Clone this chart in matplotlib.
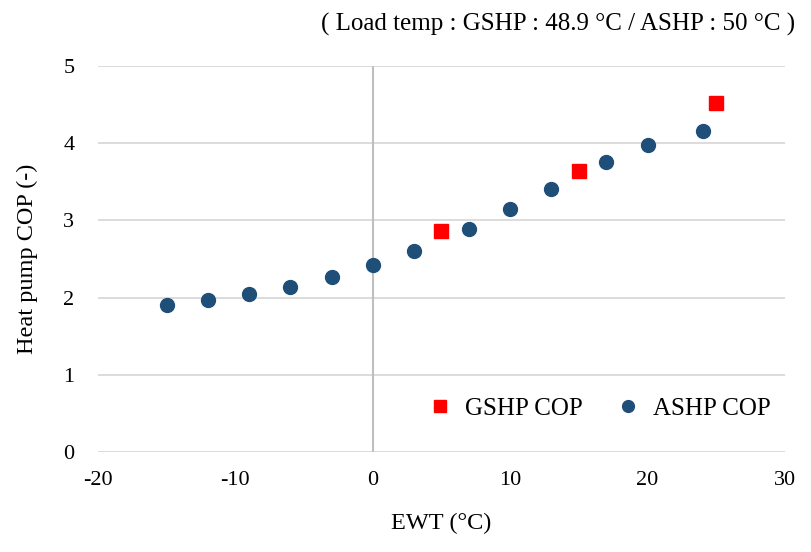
import matplotlib
matplotlib.use("Agg")
import matplotlib.pyplot as plt

plt.rcParams['font.family'] = ['Liberation Serif', 'DejaVu Serif']
plt.rcParams['axes.unicode_minus'] = False

# -------------------- DATA --------------------
ashp_ewt = [-15, -12, -9, -6, -3, 0, 3, 7, 10, 13, 17, 20, 24]
ashp_cop = [1.90, 1.97, 2.05, 2.14, 2.27, 2.42, 2.60, 2.89, 3.15, 3.41, 3.76, 3.98, 4.16]
gshp_ewt = [5, 15, 25]
gshp_cop = [2.86, 3.64, 4.52]
x_ticks = [-20, -10, 0, 10, 20, 30]
y_ticks = [0, 1, 2, 3, 4, 5]

# -------------------- PLOT --------------------
fig = plt.figure(figsize=(8.12, 5.52), dpi=100)
ax = fig.add_axes([0.1207, 0.1812, 0.846, 0.6992])

grid_c = '#d9d9d9'
for y in y_ticks:
    ax.axhline(y, color=grid_c, lw=1.3, zorder=0)
ax.axvline(0, color='#bfbfbf', lw=1.5, zorder=0)

ax.plot(gshp_ewt, gshp_cop, ls='none', marker='s', ms=10.5, color='#ff0000',
        label='GSHP COP', zorder=3)
ax.plot(ashp_ewt, ashp_cop, ls='none', marker='o', ms=10, color='#1f4e79',
        label='ASHP COP', zorder=3)

ax.set_xlim(-20, 30)
ax.set_ylim(0, 5)
ax.set_xticks(x_ticks)
ax.set_yticks(y_ticks)
for s in ax.spines.values():
    s.set_visible(False)
ax.tick_params(length=0, labelsize=16)
ax.tick_params(axis='x', pad=14)
ax.tick_params(axis='y', pad=17)

ax.set_xlabel('EWT (°C)', fontsize=17.5, labelpad=16)
ax.set_ylabel('Heat pump COP (-)', fontsize=17.5, labelpad=18)

fig.text(0.979, 0.955, '( Load temp : GSHP : 48.9 °C / ASHP : 50 °C )',
         ha='right', va='center', fontsize=18)

ax.legend(loc='lower right', bbox_to_anchor=(1.012, 0.024), ncol=2, frameon=False,
          fontsize=18, handlelength=0.8, handletextpad=0.6, columnspacing=1.4,
          markerscale=0.85)

fig.savefig('out.png', dpi=100)
